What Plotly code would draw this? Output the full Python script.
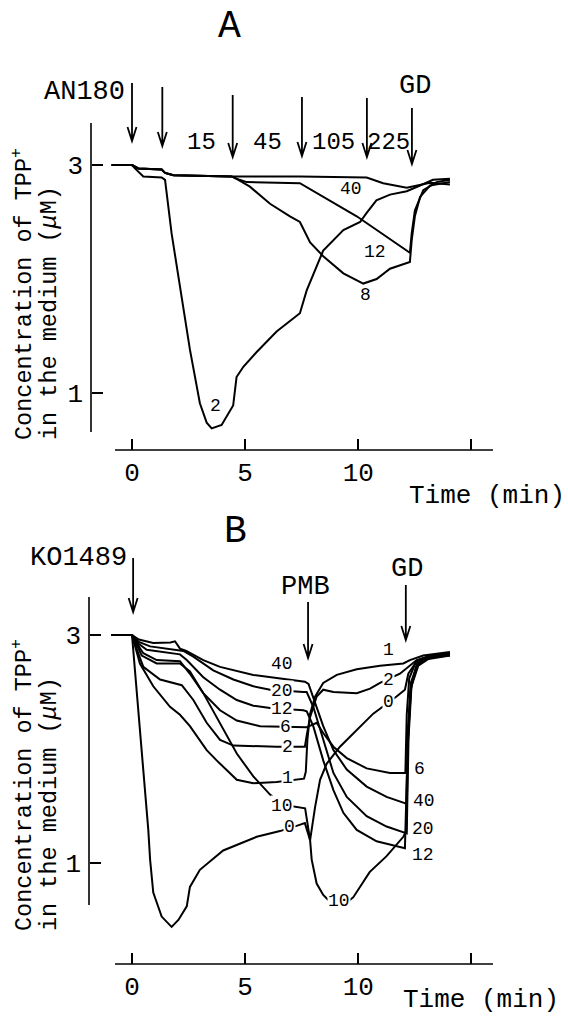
import plotly.graph_objects as go

W, H = 568, 1016
FONT = "Liberation Mono"

# ---------------- Panel A (AN180) : time (min) / TPP+ (uM) ----------------
a_time_40 = [-0.9, 0.0, 0.28, 1.31, 1.46, 1.83, 4.4, 7.42, 10.37, 11.1, 12.14, 12.66, 13.17, 14.05]
a_conc_40 = [3.0, 3.0, 2.97, 2.96, 2.93, 2.91, 2.90, 2.90, 2.89, 2.84, 2.80, 2.82, 2.845, 2.83]

a_time_12 = [-0.9, 0.0, 0.28, 1.31, 1.46, 1.83, 4.4, 4.75, 5.07, 7.42, 9.93, 12.28, 12.36, 12.5, 12.87, 13.46, 14.05]
a_conc_12 = [3.0, 3.0, 2.97, 2.96, 2.93, 2.91, 2.90, 2.87, 2.85, 2.84, 2.55, 2.23, 2.40, 2.60, 2.78, 2.85, 2.87]

a_time_8 = [-0.9, 0.0, 0.28, 1.31, 1.46, 1.83, 4.4, 4.7, 5.21, 6.1, 6.98, 7.42, 7.87, 8.45, 9.34,
            10.22, 10.81, 11.4, 12.28, 12.36, 12.5, 12.73, 13.17, 14.05]
a_conc_8 = [3.0, 3.0, 2.97, 2.96, 2.93, 2.91, 2.90, 2.87, 2.81, 2.66, 2.55, 2.50, 2.32, 2.20, 2.05,
            1.96, 2.00, 2.09, 2.15, 2.34, 2.55, 2.72, 2.82, 2.85]

a_time_2 = [-0.9, 0.0, 0.13, 0.5, 1.31, 1.46, 1.75, 2.2, 2.56, 3.0, 3.3, 3.52, 3.96, 4.47, 4.62, 4.92,
            5.51, 6.39, 7.42, 7.72, 8.45, 9.34, 10.08, 10.37, 10.8, 11.4, 12.14, 12.73, 13.3, 14.05]
a_conc_2 = [3.0, 3.0, 2.97, 2.90, 2.89, 2.87, 2.40, 1.82, 1.38, 0.91, 0.74, 0.69, 0.72, 0.89, 1.14, 1.23,
            1.36, 1.54, 1.70, 1.90, 2.25, 2.43, 2.50, 2.58, 2.69, 2.74, 2.77, 2.82, 2.87, 2.88]

a_arrow_times = [0.0, 1.34, 4.45, 7.51, 10.38, 12.37]
a_interval_labels = ["15", "45", "105", "225"]
a_interval_times = [3.05, 6.0, 8.92, 11.35]

# ---------------- Panel B (KO1489) ----------------
b_time_40 = [-0.9, 0.0, 0.3, 0.94, 1.7, 1.9, 2.12, 2.4, 3.15, 3.89, 5.36, 6.83, 7.64, 7.8, 8.16, 8.45,
             8.9, 9.49, 10.37, 11.25, 12.12, 12.2, 12.32, 12.6, 13.1, 14.05]
b_conc_40 = [3.0, 3.0, 2.96, 2.93, 2.935, 2.945, 2.88, 2.86, 2.78, 2.72, 2.65, 2.61, 2.59, 2.57, 2.37, 2.20,
             1.99, 1.82, 1.67, 1.58, 1.52, 2.2, 2.58, 2.74, 2.80, 2.83]

b_time_20 = [-0.9, 0.0, 0.3, 0.8, 2.27, 2.71, 3.59, 4.48, 5.36, 6.1, 7.57, 7.72, 8.01, 8.45, 8.9, 9.49,
             10.37, 11.25, 12.14, 12.22, 12.35, 12.65, 13.1, 14.05]
b_conc_20 = [3.0, 3.0, 2.94, 2.90, 2.86, 2.81, 2.69, 2.61, 2.55, 2.52, 2.50, 2.50, 2.37, 2.08, 1.79, 1.58,
             1.41, 1.32, 1.26, 2.1, 2.55, 2.73, 2.79, 2.82]

b_time_12 = [-0.9, 0.0, 0.25, 0.65, 2.12, 2.42, 3.15, 3.89, 4.63, 5.36, 6.1, 7.57, 7.72, 8.01, 8.45, 8.9,
             9.34, 9.93, 10.81, 12.06, 12.18, 12.3, 12.55, 13.0, 14.05]
b_conc_12 = [3.0, 3.0, 2.93, 2.87, 2.83, 2.78, 2.63, 2.52, 2.43, 2.38, 2.36, 2.34, 2.33, 2.20, 1.90, 1.64,
             1.44, 1.29, 1.19, 1.13, 2.0, 2.5, 2.72, 2.79, 2.84]

b_time_6 = [-0.9, 0.0, 0.2, 0.5, 1.09, 2.12, 2.56, 3.15, 3.89, 4.63, 5.66, 7.57, 7.72, 8.16, 8.45, 8.9,
            9.49, 10.37, 11.4, 12.08, 12.14, 12.25, 12.5, 13.0, 14.05]
b_conc_6 = [3.0, 3.0, 2.93, 2.84, 2.78, 2.77, 2.66, 2.49, 2.34, 2.25, 2.20, 2.19, 2.19, 2.23, 2.14, 2.02,
            1.92, 1.83, 1.79, 1.79, 2.3, 2.62, 2.74, 2.80, 2.82]

b_time_2 = [-0.9, 0.0, 0.2, 0.5, 1.24, 2.2, 2.71, 3.3, 3.89, 4.48, 6.39, 7.64, 7.72, 7.87, 8.16, 8.45,
            8.9, 9.93, 10.52, 10.96, 11.84, 12.14, 12.58, 13.2, 14.05]
b_conc_2 = [3.0, 3.0, 2.88, 2.72, 2.61, 2.56, 2.43, 2.23, 2.08, 2.03, 2.02, 2.02, 2.12, 2.28, 2.46, 2.52,
            2.50, 2.49, 2.53, 2.58, 2.66, 2.71, 2.78, 2.82, 2.84]

b_time_1 = [-0.9, 0.0, 0.35, 0.94, 1.68, 2.12, 2.56, 3.3, 3.74, 4.63, 5.36, 6.39, 7.6, 7.68, 7.75, 7.87,
            8.09, 8.45, 9.05, 9.93, 10.96, 11.99, 12.28, 12.87, 14.05]
b_conc_1 = [3.0, 3.0, 2.75, 2.55, 2.37, 2.30, 2.20, 1.99, 1.90, 1.73, 1.70, 1.71, 1.74, 1.80, 2.08, 2.31,
            2.46, 2.58, 2.65, 2.70, 2.73, 2.75, 2.78, 2.82, 2.85]

b_time_10 = [-0.9, 0.0, 0.43, 1.09, 2.12, 2.56, 3.15, 3.89, 4.63, 5.36, 6.1, 6.67, 7.5, 7.65, 7.87, 7.94,
             8.16, 8.45, 8.75, 9.14, 9.6, 9.78, 10.5, 11.25, 11.99, 12.12, 12.2, 12.34, 12.62, 13.05, 14.05]
b_conc_10 = [3.0, 3.0, 2.82, 2.75, 2.75, 2.68, 2.49, 2.23, 1.96, 1.76, 1.60, 1.51, 1.48, 1.48, 1.20, 1.03,
             0.82, 0.72, 0.66, 0.65, 0.67, 0.70, 0.92, 1.06, 1.23, 1.28, 2.1, 2.56, 2.73, 2.80, 2.83]

b_time_0 = [-0.9, 0.0, 0.72, 0.8, 0.94, 1.31, 1.75, 2.05, 2.42, 2.56, 3.0, 4.03, 5.51, 6.54, 7.34, 7.64,
            7.87, 8.09, 8.31, 8.6, 9.19, 9.93, 10.66, 11.69, 12.06, 12.21, 12.58, 13.2, 14.05]
b_conc_0 = [3.0, 3.0, 1.29, 1.03, 0.74, 0.53, 0.44, 0.50, 0.62, 0.79, 0.94, 1.11, 1.23, 1.28, 1.33, 1.35,
            1.20, 1.49, 1.73, 1.87, 2.02, 2.17, 2.31, 2.46, 2.52, 2.66, 2.77, 2.82, 2.83]

b_arrow_times = [0.05, 7.78, 12.1]

x_tickvals = [0, 5, 10, 15]
x_ticktext = ["0", "5", "10", " "]
y_tickvals = [1, 3]
y_ticktext = ["1", "3"]

# ---------------- pixel geometry (layout only) ----------------
PX0, PXS = 132.0, 22.63          # pixel of t=0, pixels per minute
A_Y3, B_Y3, PYS = 165.0, 635.0, 114.0   # pixel of C=3, pixels per uM


def fx(px):
    return px / W


def fy(py):
    return 1 - py / H


def t_of(px):
    return (px - PX0) / PXS


XDOM = (105, 495)
A_YDOM = (115, 455)
B_YDOM = (585, 942)


def c_of(py, y3):
    return 3 - (py - y3) / PYS


fig = go.Figure()

panels = [
    ("x", "y", [(a_time_40, a_conc_40), (a_time_12, a_conc_12), (a_time_8, a_conc_8), (a_time_2, a_conc_2)]),
    ("x2", "y2", [(b_time_40, b_conc_40), (b_time_20, b_conc_20), (b_time_12, b_conc_12), (b_time_6, b_conc_6),
                  (b_time_2, b_conc_2), (b_time_1, b_conc_1), (b_time_10, b_conc_10), (b_time_0, b_conc_0)]),
]
for xa, ya, series in panels:
    for tt, cc in series:
        fig.add_trace(go.Scatter(x=tt, y=cc, mode="lines", xaxis=xa, yaxis=ya,
                                 line=dict(color="black", width=2), showlegend=False, hoverinfo="skip"))

xaxis_common = dict(range=[t_of(XDOM[0]), t_of(XDOM[1])], domain=[fx(XDOM[0]), fx(XDOM[1])],
                    anchor="free", showline=False, showgrid=False, zeroline=False,
                    ticks="inside", ticklen=11, tickwidth=1.5, tickcolor="black",
                    tickvals=x_tickvals, ticktext=x_ticktext,
                    tickfont=dict(family=FONT, size=26, color="black"), ticklabelstandoff=4)
yaxis_common = dict(anchor="free", side="left", showline=False, showgrid=False, zeroline=False,
                    ticks="inside", ticklen=11, tickwidth=1.5, tickcolor="black",
                    tickvals=y_tickvals, ticktext=y_ticktext,
                    tickfont=dict(family=FONT, size=26, color="black"), ticklabelstandoff=8)

fig.update_layout(
    width=W, height=H, margin=dict(l=0, r=0, t=0, b=0),
    paper_bgcolor="white", plot_bgcolor="rgba(0,0,0,0)",
    xaxis=dict(xaxis_common, position=fy(450)),
    yaxis=dict(yaxis_common, range=[c_of(A_YDOM[1], A_Y3), c_of(A_YDOM[0], A_Y3)],
               domain=[fy(A_YDOM[1]), fy(A_YDOM[0])], position=fx(91)),
    xaxis2=dict(xaxis_common, position=fy(964)),
    yaxis2=dict(yaxis_common, range=[c_of(B_YDOM[1], B_Y3), c_of(B_YDOM[0], B_Y3)],
                domain=[fy(B_YDOM[1]), fy(B_YDOM[0])], position=fx(89)),
)

shapes = []
# axis spines
for x0, x1, y0, y1 in [(91, 91, 123, 432), (115, 493, 450, 450), (89, 89, 597, 905), (115, 493, 964, 964)]:
    shapes.append(dict(type="line", xref="paper", yref="paper", x0=fx(x0), x1=fx(x1), y0=fy(y0), y1=fy(y1),
                       line=dict(color="black", width=1.6)))


def arrow(xref, t, ytop, ybot):
    d = 4.5 / PXS
    h = 14.0 / H
    yt, yb = fy(ytop), fy(ybot)
    path = f"M {t},{yt} L {t},{yb} M {t - d},{yb + h} L {t},{yb} L {t + d},{yb + h}"
    return dict(type="path", xref=xref, yref="paper", path=path, line=dict(color="black", width=1.8))


a_arrow_spans = [(83, 141), (87, 146), (95, 157), (97, 156), (98, 157), (108, 164)]
for t, (y0, y1) in zip(a_arrow_times, a_arrow_spans):
    shapes.append(arrow("x", t, y0, y1))
b_arrow_spans = [(558, 612), (602, 658), (585, 640)]
for t, (y0, y1) in zip(b_arrow_times, b_arrow_spans):
    shapes.append(arrow("x2", t, y0, y1))
fig.update_layout(shapes=shapes)

ann = []


def txt(text, px, py, size, xanchor="center", yanchor="middle", bg=None, angle=0):
    d = dict(text=text, xref="paper", yref="paper", x=fx(px), y=fy(py), xanchor=xanchor, yanchor=yanchor,
             showarrow=False, font=dict(family=FONT, size=size, color="black"), textangle=angle)
    if bg:
        d.update(bgcolor=bg, borderpad=0)
    ann.append(d)


# panel titles
txt("A", 229, 27, 38)
txt("B", 235, 531, 38)
# panel A texts
txt("AN180", 127, 92, 27, xanchor="right")
txt("GD", 415, 86, 27)
for lab, t in zip(a_interval_labels, a_interval_times):
    txt(lab, PX0 + PXS * t, 143, 24)
txt("40", 351, 189, 18)
txt("12", 375, 252, 18)
txt("8", 365, 295, 18)
txt("2", 215, 406, 18)
txt("Time (min)", 407, 496, 26, xanchor="left")
# panel B texts
txt("KO1489", 129, 558, 27, xanchor="right")
txt("PMB", 306, 587, 27)
txt("GD", 407, 569, 27)
txt("40", 282, 664, 18)
for lab, px, py in [("20", 282, 691), ("12", 282, 709), ("6", 285, 727), ("2", 287, 747), ("1", 287, 778),
                    ("10", 282, 806), ("0", 289, 827), ("2", 388, 680), ("0", 388, 702), ("10", 339, 901)]:
    txt(lab, px, py, 18, bg="white")
for lab, px, py in [("1", 388, 650), ("6", 419, 769), ("40", 424, 801), ("20", 423, 829), ("12", 423, 855)]:
    txt(lab, px, py, 18)
txt("Time (min)", 401, 1000, 26, xanchor="left")
# y-axis titles (two lines each)
for base in (442, 933):
    txt("Concentration of TPP<sup>+</sup>", 22, base, 23.5, yanchor="bottom", angle=-90)
    txt("in the medium (<i>\u03bc</i>M)", 49, base, 23.5, yanchor="bottom", angle=-90)

fig.update_layout(annotations=ann)
fig.write_html("out.html")
